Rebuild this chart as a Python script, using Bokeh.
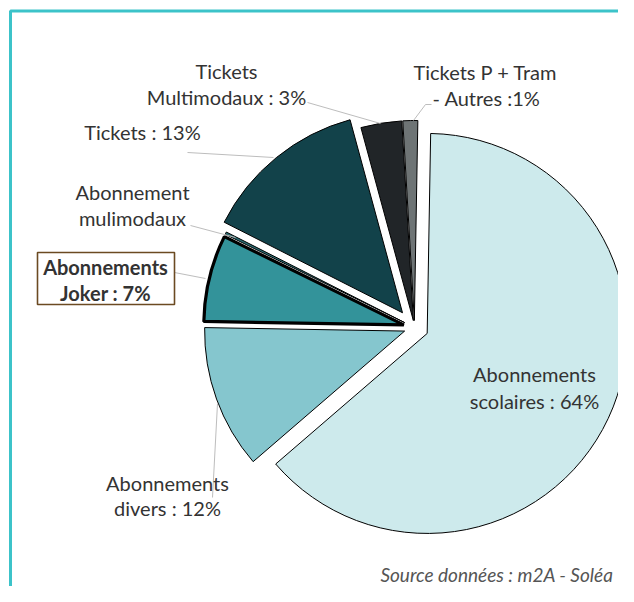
import math
from bokeh.plotting import figure
from bokeh.models import Range1d, ColumnDataSource
from bokeh.core.properties import value
from bokeh.embed import file_html
from bokeh.resources import INLINE

# ---------------- data ----------------
categories = ["Abonnements scolaires", "Abonnements divers", "Abonnements Joker",
              "Abonnement mulimodaux", "Tickets", "Tickets Multimodaux",
              "Tickets P + Tram - Autres"]
shares = [63.4, 11.6, 7.0, 0.2, 13.3, 3.3, 1.2]
label_lines = [["Abonnements", "scolaires : 64%"],
               ["Abonnements", "divers : 12%"],
               ["Abonnements", "Joker : 7%"],
               ["Abonnement", "mulimodaux"],
               ["Tickets : 13%"],
               ["Tickets", "Multimodaux : 3%"],
               ["Tickets P + Tram", "- Autres :1%"]]
source_note = "Source données : m2A - Soléa"

# ---------------- style / layout ----------------
colors = ["#cdeaec", "#85c6ce", "#33939a", "#2a6f75", "#12424a", "#212528", "#6e7475"]
outline_w = [1, 1, 3.2, 1, 1, 1, 1]
explode = [14, 10.5, 11, 11, 19, 7, 7]
start_offset = 1.0          # degrees clockwise from 12 o'clock
R = 200
W, H = 618, 586

def sy(y):                   # screen y (picture px) -> data y
    return 602 - y

cx, cy = 414, sy(327)

# label positions (screen px) : list of (x, y) per line
label_pos = [[(534, 373), (534, 400)],
             [(167, 482), (167, 507)],
             [(105, 266), (105, 292)],
             [(132, 191), (132, 217)],
             [(142, 131)],
             [(226, 70), (226, 96)],
             [(485, 71), (486, 97)]]
leaders = [None,
           [(212, 497), (217, 403)],
           [(174, 272), (205, 278)],
           [(190, 225), (235, 237)],
           [(187, 152), (273, 157)],
           [(307, 102), (380, 123)],
           [(431, 104), (425, 104), (413, 120)]]

p = figure(width=W, height=H, x_range=Range1d(0, W), y_range=Range1d(602 - H, 602),
           output_backend="svg", toolbar_location=None, min_border=0)
p.axis.visible = False
p.grid.visible = False
p.outline_line_color = None
p.background_fill_color = "white"

# frame border (teal)
p.line([10, 10, 640], [sy(620), sy(10.5), sy(10.5)], line_color="#3cc3c9", line_width=3)

# wedges
total = sum(shares)
acc = start_offset
xs, ys, sa, ea = [], [], [], []
for i, v in enumerate(shares):
    a1 = acc
    a2 = acc + v / total * 360.0
    acc = a2
    mid = math.radians((a1 + a2) / 2)
    dx = math.sin(mid) * explode[i]
    dy = math.cos(mid) * explode[i]
    xs.append(cx + dx)
    ys.append(cy + dy)
    sa.append(math.radians(90 - a2))
    ea.append(math.radians(90 - a1))

src = ColumnDataSource(dict(x=xs, y=ys, sa=sa, ea=ea, c=colors, lw=outline_w, cat=categories))
p.wedge(x="x", y="y", radius=R, start_angle="sa", end_angle="ea",
        fill_color="c", line_color="black", line_width="lw", source=src)

# leader lines
for ld in leaders:
    if ld is None:
        continue
    p.line([q[0] for q in ld], [sy(q[1]) for q in ld], line_color="#bdbdbd", line_width=1)

# Joker label box
p.quad(left=[37], right=[174], top=[sy(252)], bottom=[sy(304)], fill_color="white",
       line_color="#6b4a22", line_width=1.6)

# labels
FONT = "Lato"
for i, lines in enumerate(label_lines):
    for t, (lx, ly) in zip(lines, label_pos[i]):
        p.text(x=[lx], y=[sy(ly)], text=[t], text_align="center", text_baseline="middle",
               text_font=value(FONT), text_font_size="20px", text_color="#333333",
               text_font_style="bold" if i == 2 else "normal")

p.text(x=[613], y=[sy(574)], text=[source_note], text_align="right", text_baseline="middle",
       text_font=value(FONT), text_font_size="19px", text_font_style="italic",
       text_color="#555555")

open("out.html", "w").write(file_html(p, INLINE))
